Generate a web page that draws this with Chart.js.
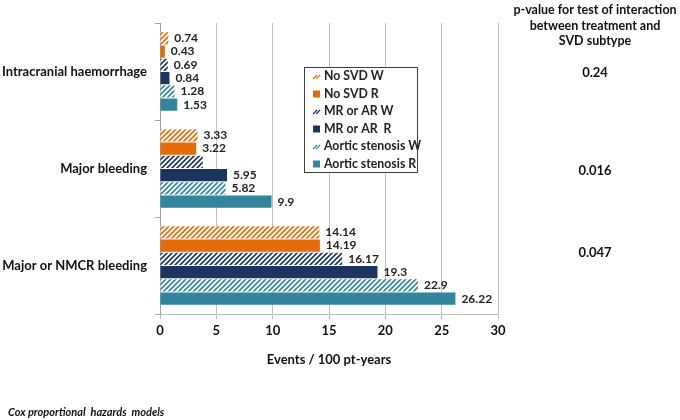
<!DOCTYPE html>
<html>
<head>
<meta charset="utf-8">
<script src="https://cdn.jsdelivr.net/npm/chart.js@4.4.0/dist/chart.umd.min.js"></script>
<style>
  html, body { margin: 0; padding: 0; background: #fff; }
  #wrap { position: relative; width: 680px; height: 420px; }
</style>
</head>
<body>
<div id="wrap"><canvas id="chart" width="680" height="420"></canvas></div>
<script>
// Bleeding event rates by SVD subtype and treatment (W = warfarin, R = rivaroxaban).
const categories = ["Intracranial haemorrhage", "Major bleeding", "Major or NMCR bleeding"];
const seriesNames = ["No SVD W", "No SVD R", "MR or AR W", "MR or AR  R", "Aortic stenosis W", "Aortic stenosis R"];
const noSvdW = [0.74, 3.33, 14.14];
const noSvdR = [0.43, 3.22, 14.19];
const mrArW = [0.69, 3.8, 16.17];
const mrArR = [0.84, 5.95, 19.3];
const asW = [1.28, 5.82, 22.9];
const asR = [1.53, 9.9, 26.22];
// labels printed beside the bars (MR or AR W at major bleeding has none in the original)
const valueLabels = [
  ["0.74", "3.33", "14.14"],
  ["0.43", "3.22", "14.19"],
  ["0.69", "", "16.17"],
  ["0.84", "5.95", "19.3"],
  ["1.28", "5.82", "22.9"],
  ["1.53", "9.9", "26.22"],
];
const xTicks = [0, 5, 10, 15, 20, 25, 30];
const pHeading = ["p-value for test of interaction", "between treatment and", "SVD subtype"];
const pValues = ["0.24", "0.016", "0.047"];

const ORANGE = "#e46c0a";
const NAVY = "#1c355e";
const TEAL = "#31859c";
const FONT = "Lato, 'Open Sans', sans-serif";

// white background with "/" stripes in the series colour
function hatch(color) {
  const s = 5;
  const c = document.createElement("canvas");
  c.width = s; c.height = s;
  const g = c.getContext("2d");
  g.fillStyle = "#fff";
  g.fillRect(0, 0, s, s);
  g.strokeStyle = color;
  g.lineWidth = 1.6;
  g.beginPath();
  g.moveTo(-1, s + 1); g.lineTo(s + 1, -1);
  g.moveTo(-1, 1); g.lineTo(1, -1);
  g.moveTo(s - 1, s + 1); g.lineTo(s + 1, s - 1);
  g.stroke();
  return g.createPattern(c, "repeat");
}

const fills = [hatch(ORANGE), ORANGE, hatch(NAVY), NAVY, hatch(TEAL), TEAL];
const swatchColors = [ORANGE, ORANGE, NAVY, NAVY, TEAL, TEAL];
const values = [noSvdW, noSvdR, mrArW, mrArR, asW, asR];

const barLabels = {
  id: "barLabels",
  afterDatasetsDraw(chart) {
    const ctx = chart.ctx;
    ctx.save();
    ctx.font = "bold 12px " + FONT;
    ctx.fillStyle = "#222";
    ctx.textAlign = "left";
    ctx.textBaseline = "middle";
    chart.data.datasets.forEach((ds, i) => {
      chart.getDatasetMeta(i).data.forEach((el, j) => {
        const t = valueLabels[i][j];
        if (t) ctx.fillText(t, el.x + 6, el.y);
      });
    });
    ctx.restore();
  },
};

const legendBox = {
  id: "legendBox",
  afterDraw(chart) {
    const ctx = chart.ctx;
    const x = 304, y = 67, w = 113, h = 105;
    ctx.save();
    ctx.fillStyle = "#fff";
    ctx.fillRect(x, y, w, h);
    ctx.strokeStyle = "#404040";
    ctx.lineWidth = 1;
    ctx.strokeRect(x + 0.5, y + 0.5, w, h);
    ctx.font = "bold 12.3px " + FONT;
    ctx.textBaseline = "middle";
    seriesNames.forEach((name, i) => {
      const cy = y + 9 + i * 17.5;
      if (i % 2 === 0) {
        ctx.strokeStyle = swatchColors[i];
        ctx.lineWidth = 1.2;
        ctx.beginPath();
        ctx.moveTo(313, cy + 3); ctx.lineTo(317, cy - 1);
        ctx.moveTo(316, cy + 3); ctx.lineTo(320, cy - 1);
        ctx.stroke();
      } else {
        ctx.fillStyle = swatchColors[i];
        ctx.fillRect(313, cy - 3, 7, 7);
      }
      ctx.fillStyle = "#222";
      ctx.fillText(name, 324, cy + 0.5);
    });
    ctx.restore();
  },
};

const sideText = {
  id: "sideText",
  afterDraw(chart) {
    const ctx = chart.ctx;
    ctx.save();
    ctx.fillStyle = "#111";
    ctx.textAlign = "center";
    ctx.textBaseline = "middle";
    ctx.font = "bold 12.5px " + FONT;
    pHeading.forEach((t, i) => ctx.fillText(t, 595, 10 + i * 15.5));
    const py = [73, 171, 253];
    ctx.font = "bold 13px " + FONT;
    pValues.forEach((t, i) => ctx.fillText(t, 595, py[i]));
    ctx.textAlign = "left";
    ctx.font = "italic bold 11px " + FONT;
    ctx.fillText("Cox proportional  hazards  models", 8, 412);
    ctx.restore();
  },
};

new Chart(document.getElementById("chart"), {
  type: "bar",
  data: {
    labels: categories,
    datasets: seriesNames.map((name, i) => ({
      label: name,
      data: values[i],
      backgroundColor: fills[i],
      borderWidth: 0,
      categoryPercentage: 0.82,
      barPercentage: 0.92,
    })),
  },
  options: {
    indexAxis: "y",
    responsive: false,
    animation: false,
    devicePixelRatio: 1,
    layout: { padding: { top: 23, right: 182, bottom: 40, left: 0 } },
    scales: {
      x: {
        min: 0,
        max: 30,
        afterBuildTicks: (s) => { s.ticks = xTicks.map((v) => ({ value: v })); },
        afterFit: (s) => { s.height = 66; },
        grid: { color: "#bfbfbf", lineWidth: 1, tickLength: 5, tickColor: "#bfbfbf" },
        border: { color: "#bfbfbf" },
        ticks: { color: "#111", padding: 4, font: { family: FONT, size: 13, weight: "bold" } },
        title: {
          display: true,
          text: "Events / 100 pt-years",
          color: "#111",
          font: { family: FONT, size: 13, weight: "bold" },
          padding: { top: 0, bottom: 12 },
        },
      },
      y: {
        afterFit: (s) => { s.width = 160; },
        grid: { drawOnChartArea: false, tickLength: 5, color: "#a0a0a0" },
        border: { color: "#a0a0a0" },
        ticks: { color: "#111", padding: 8, font: { family: FONT, size: 13, weight: "bold" } },
      },
    },
    plugins: {
      legend: { display: false },
      tooltip: { enabled: false },
    },
  },
  plugins: [barLabels, legendBox, sideText],
});
</script>
</body>
</html>
